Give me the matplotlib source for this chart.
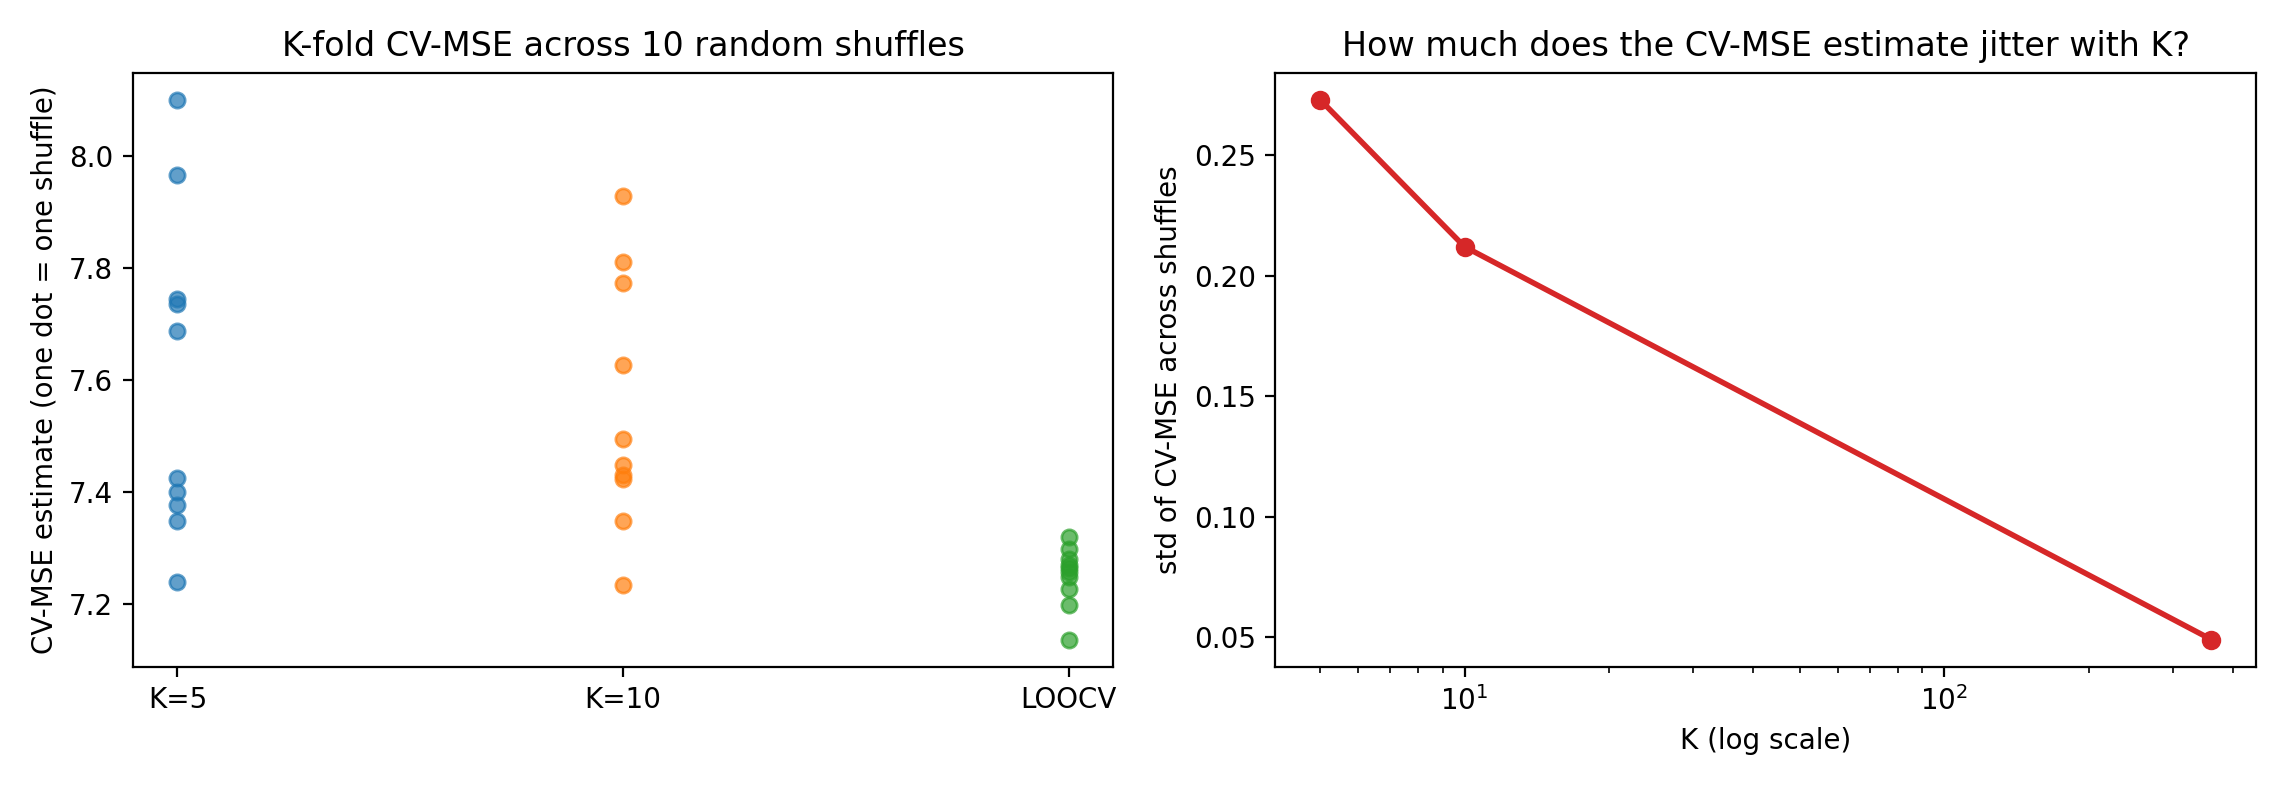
import numpy as np
import matplotlib.pyplot as plt

labels = ["K=5", "K=10", "LOOCV"]
k5_scores = [8.100, 7.965, 7.745, 7.735, 7.688, 7.425, 7.400, 7.377, 7.348, 7.240]
k10_scores = [7.928, 7.810, 7.773, 7.627, 7.495, 7.448, 7.430, 7.424, 7.348, 7.235]
loocv_scores = [7.320, 7.298, 7.280, 7.270, 7.265, 7.258, 7.248, 7.228, 7.198, 7.137]

k_values = [5, 10, 360]
std_values = [0.273, 0.212, 0.049]

fig, (ax1, ax2) = plt.subplots(1, 2, figsize=(11.43, 3.925), dpi=200)

for i, scores in enumerate([k5_scores, k10_scores, loocv_scores]):
    ax1.scatter([i] * len(scores), scores, alpha=0.7, s=30)
ax1.set_xticks(range(len(labels)))
ax1.set_xticklabels(labels)
ax1.set_ylabel("CV-MSE estimate (one dot = one shuffle)")
ax1.set_title("K-fold CV-MSE across 10 random shuffles")

ax2.plot(k_values, std_values, "o-", color="tab:red", linewidth=2)
ax2.set_xscale("log")
ax2.set_xlabel("K (log scale)")
ax2.set_ylabel("std of CV-MSE across shuffles")
ax2.set_title("How much does the CV-MSE estimate jitter with K?")

plt.tight_layout()
plt.savefig("out.png")
